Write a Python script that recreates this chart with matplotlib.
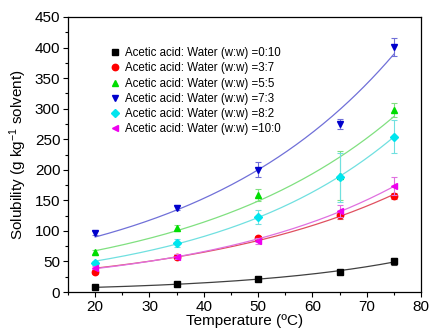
import numpy as np
import matplotlib.pyplot as plt
from matplotlib.ticker import MultipleLocator

plt.rcParams['font.family'] = ['Liberation Sans', 'DejaVu Sans']
plt.rcParams['mathtext.fontset'] = 'custom'
plt.rcParams['mathtext.rm'] = 'Liberation Sans'
plt.rcParams['mathtext.default'] = 'regular'

temps = np.array([20, 35, 50, 65, 75])

ratios = ['0:10', '3:7', '5:5', '7:3', '8:2', '10:0']

sol_0_10 = [8.5, 13, 21, 33, 50]
sol_3_7 = [32, 57, 88, 126, 157]
sol_5_5 = [65, 105, 159, 190, 298]
sol_7_3 = [97, 138, 200, 275, 401]
sol_8_2 = [48, 80, 123, 188, 254]
sol_10_0 = [40, 58, 84, 132, 173]

err_0_10 = [2, 2, 2, 3, 5]
err_3_7 = [3, 3, 4, 6, 5]
err_5_5 = [4, 5, 10, 40, 12]
err_7_3 = [3, 4, 12, 8, 15]
err_8_2 = [3, 6, 12, 40, 27]
err_10_0 = [3, 4, 5, 10, 15]

series = [sol_0_10, sol_3_7, sol_5_5, sol_7_3, sol_8_2, sol_10_0]
errors = [err_0_10, err_3_7, err_5_5, err_7_3, err_8_2, err_10_0]
markers = ['s', 'o', '^', 'v', 'D', '<']
colors = ['black', 'red', '#00dd00', '#0000cc', '#00e5ee', '#ee00ee']
fit_colors = ['#404040', '#e05060', '#80e080', '#7070d8', '#70e0e0', '#e070e0']
sizes = [4.3, 4.6, 5, 5, 4.3, 5]

fig = plt.figure(figsize=(4.31, 3.32), dpi=100)
ax = fig.add_axes([68 / 431, 40 / 332, 353 / 431, 275 / 332])

t_fine = np.linspace(20, 75, 200)
handles = []
for vals, errs, m, c, fc, s, r in zip(series, errors, markers, colors,
                                      fit_colors, sizes, ratios):
    vals = np.array(vals, dtype=float)
    # exponential fit, weighted so it follows the larger values
    b, a = np.polyfit(temps, np.log(vals), 1, w=vals)
    ax.plot(t_fine, np.exp(a + b * t_fine), color=fc, lw=0.9)
    ax.errorbar(temps, vals, yerr=errs, fmt='none', ecolor=fc,
                elinewidth=0.8, capsize=2, capthick=0.8)
    h, = ax.plot(temps, vals, m, color=c, ms=s, mec=c,
                 label='Acetic acid: Water (w:w) =' + r)
    handles.append(h)

ax.set_xlim(15, 80)
ax.set_ylim(0, 450)
ax.xaxis.set_major_locator(MultipleLocator(10))
ax.xaxis.set_minor_locator(MultipleLocator(5))
ax.yaxis.set_major_locator(MultipleLocator(50))
ax.yaxis.set_minor_locator(MultipleLocator(25))
ax.tick_params(which='both', direction='out', top=False, right=False,
               labelsize=11, width=0.8, pad=2)
ax.tick_params(which='major', length=3.5)
ax.tick_params(which='minor', length=2)
for sp in ax.spines.values():
    sp.set_linewidth(0.9)

ax.set_xlabel('Temperature (ºC)', fontsize=11, labelpad=0)
ax.set_ylabel('Solubility (g kg$^{-1}$ solvent)', fontsize=11, labelpad=4)

ax.legend(handles=handles, loc='upper left', bbox_to_anchor=(0.119, 0.89),
          frameon=False, fontsize=8.3, handletextpad=0.5, labelspacing=0.28,
          handlelength=0.8, borderaxespad=0, borderpad=0)

fig.savefig('out.png', dpi=100)
